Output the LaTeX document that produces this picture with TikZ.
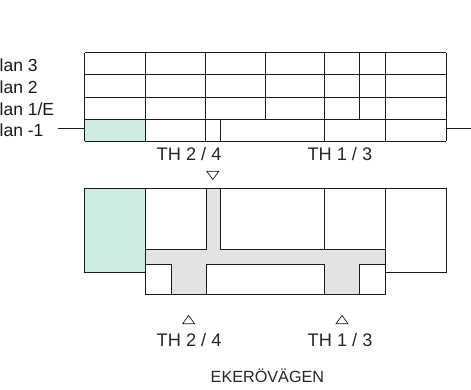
\documentclass[tikz,border=0pt]{standalone}
\usepackage{fontspec}
\setmainfont{Liberation Sans}
\definecolor{planline}{HTML}{1A1A1A}
\definecolor{greenfill}{HTML}{CDEBE0}
\definecolor{corridor}{HTML}{E3E3E3}
\tikzset{
  wall/.style={draw=planline,line width=1pt},
  stub/.style={draw=planline,line width=0.9pt},
  marker/.style={draw=planline,line width=0.7pt,fill=white},
  thlabel/.style={anchor=base west,inner sep=0pt,outer sep=0pt,font=\fontsize{18.2}{20}\selectfont,text=black!85},
  planlabel/.style={anchor=base west,inner sep=0pt,outer sep=0pt,font=\fontsize{17.5}{20}\selectfont,text=black!90},
  roadlabel/.style={anchor=base west,inner sep=0pt,outer sep=0pt,font=\fontsize{16.2}{18}\selectfont,text=black!85}
}
\begin{document}
\begin{tikzpicture}[x=1pt,y=-1pt]
\useasboundingbox (0,0) rectangle (471,389);
% section: fills
\fill[greenfill] (84.5,119.3) rectangle (145.5,141);
% section: horizontals
\draw[wall] (84.5,52.8) -- (446,52.8);
\draw[wall] (84.5,74.9) -- (446,74.9);
\draw[wall] (84.5,97) -- (446,97);
\draw[wall] (84.5,119.3) -- (446,119.3);
\draw[wall] (84.5,141) -- (446,141);
% section: verticals
\draw[wall] (84.5,52.8) -- (84.5,141);
\draw[wall] (145.5,52.8) -- (145.5,141);
\draw[wall] (205.7,52.8) -- (205.7,141);
\draw[wall] (220,119.3) -- (220,141);
\draw[wall] (265,52.8) -- (265,119.3);
\draw[wall] (324.7,52.8) -- (324.7,141);
\draw[wall] (359,52.8) -- (359,119.3);
\draw[wall] (385,52.8) -- (385,141);
\draw[wall] (446,52.8) -- (446,141);
% plan: fills
\fill[greenfill] (84.3,188) rectangle (145.3,272);
\fill[corridor] (206,188) -- (220,188) -- (220,249.7) -- (385,249.7) -- (385,264.3) -- (359,264.3) -- (359,294.3) -- (324.7,294.3) -- (324.7,264.3) -- (206,264.3) -- (206,294.3) -- (171.3,294.3) -- (171.3,264.3) -- (145.3,264.3) -- (145.3,249.7) -- (206,249.7) -- cycle;
% plan: outlines
\draw[wall] (84.3,188) -- (446,188);
\draw[wall] (84.3,188) -- (84.3,272) -- (145.3,272);
\draw[wall] (145.3,188) -- (145.3,294.3) -- (385,294.3) -- (385,188);
\draw[wall] (446,188) -- (446,272) -- (385,272);
\draw[wall] (206,188) -- (206,249.7) -- (145.3,249.7);
\draw[wall] (220,188) -- (220,249.7) -- (385,249.7);
\draw[wall] (145.3,264.3) -- (171.3,264.3) -- (171.3,294.3);
\draw[wall] (206,294.3) -- (206,264.3) -- (324.7,264.3) -- (324.7,294.3);
\draw[wall] (324.7,188) -- (324.7,249.7);
\draw[wall] (359,294.3) -- (359,264.3) -- (385,264.3);
% stubs
\coordinate (stubLa) at (58,128.8);
\coordinate (stubLb) at (84.5,128.8);
\coordinate (stubRa) at (446,128.8);
\coordinate (stubRb) at (471,128.8);
\draw[stub] (stubLa) -- (stubLb);
\draw[stub] (stubRa) -- (stubRb);
% markers
\draw[marker] (206.8,171.3) -- (218.8,171.3) -- (212.8,179.5) -- cycle;
\draw[marker] (182.6,323.7) -- (194.6,323.7) -- (188.6,315.5) -- cycle;
\draw[marker] (336,323.7) -- (348,323.7) -- (342,315.5) -- cycle;
% labels
\node[planlabel] (p3) at (-12,71.7) {Plan 3};
\node[planlabel] (p2) at (-12,93.4) {Plan 2};
\node[planlabel] (p1) at (-12,115.2) {Plan 1/E};
\node[planlabel] (pm) at (-12,136.2) {Plan -1};
\node[thlabel] (ta) at (156.7,160.7) {TH 2 / 4};
\node[thlabel] (tb) at (307.5,160.7) {TH 1 / 3};
\node[thlabel] (tc) at (156.7,346.7) {TH 2 / 4};
\node[thlabel] (td) at (307.7,346.7) {TH 1 / 3};
\node[roadlabel] (road) at (210.7,382.7) {EKERÖVÄGEN};
\end{tikzpicture}
\end{document}
